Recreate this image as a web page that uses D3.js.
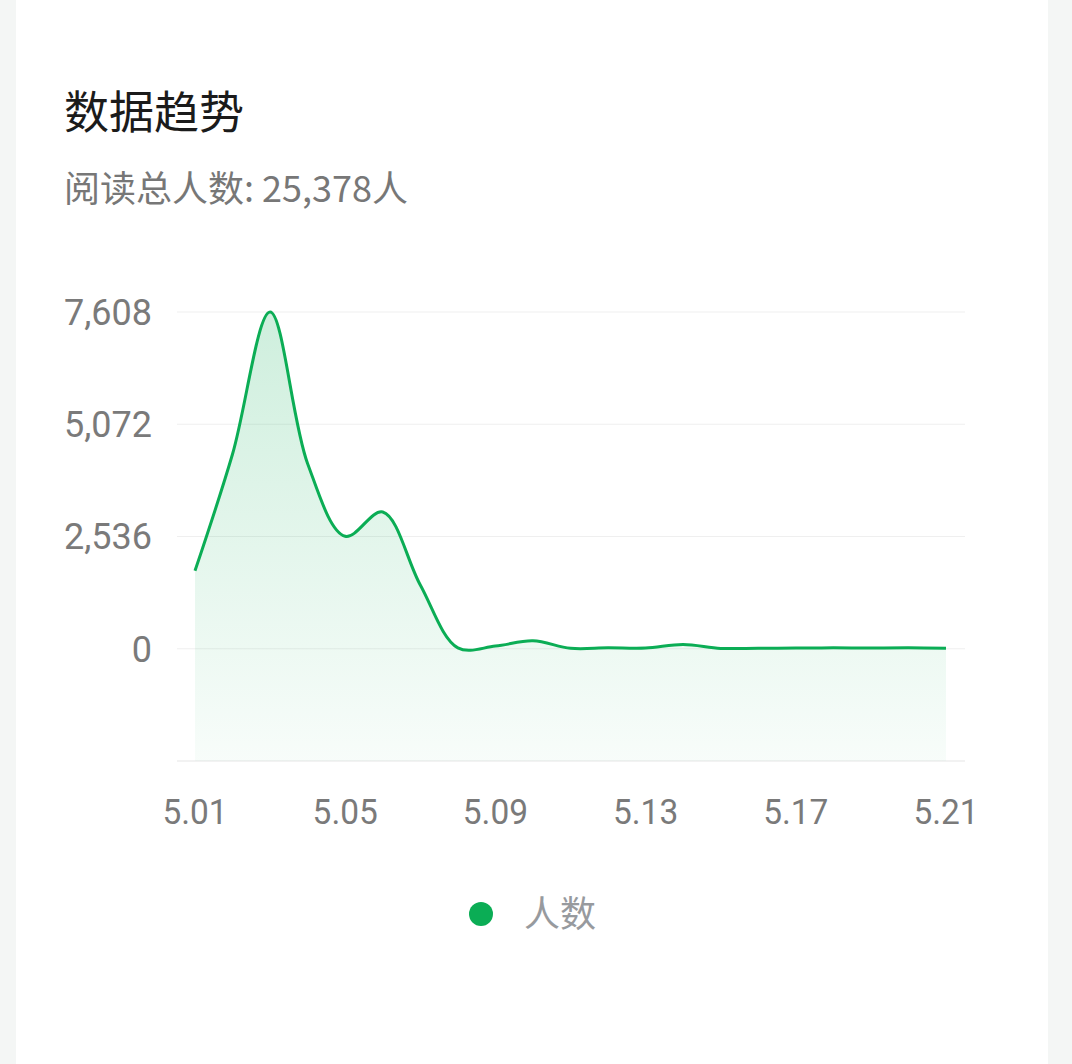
<!DOCTYPE html>
<html><head><meta charset="utf-8">
<script src="https://cdn.jsdelivr.net/npm/d3@7/dist/d3.min.js"></script>
<style>
html,body{margin:0;padding:0;background:#f4f6f5;}
svg{display:block;}
</style></head>
<body>
<svg id="c" width="1072" height="1064"></svg>
<script>
const dates = ["5.01","5.02","5.03","5.04","5.05","5.06","5.07","5.08","5.09","5.10","5.11","5.12","5.13","5.14","5.15","5.16","5.17","5.18","5.19","5.20","5.21"];
const readers = [1760,4400,7608,4180,2540,3090,1440,20,60,180,10,20,15,95,8,12,15,20,18,22,10];
const yTicks = [-2536,0,2536,5072,7608];
const xTickLabels = ["5.01","5.05","5.09","5.13","5.17","5.21"];
const title = "数据趋势";
const subtitle = "阅读总人数: 25,378人";
const seriesName = "人数";

const svg = d3.select("#c");
const green = "#0bad55";
const font = "Roboto, 'Noto Sans CJK SC', sans-serif";
const cjk = "'Noto Sans CJK SC', sans-serif";

svg.append("rect").attr("x",16).attr("y",0).attr("width",1032).attr("height",1064).attr("fill","#fff");

svg.append("text").attr("x",64).attr("y",129).text(title)
  .attr("font-family",cjk).attr("font-size",45).attr("font-weight",400).attr("fill","#1b1b1b");
svg.append("text").attr("x",64).attr("y",202).text(subtitle)
  .attr("font-family",cjk).attr("font-size",36).attr("fill","#777");

const x = d3.scalePoint().domain(dates).range([195,946]);
const y = d3.scaleLinear().domain([-2536,7608]).range([761,312]);

const g = svg.append("g");
g.selectAll("line.grid").data(yTicks).join("line").attr("class","grid")
  .attr("x1",177).attr("x2",965).attr("y1",d=>y(d)).attr("y2",d=>y(d))
  .attr("stroke",(d,i)=>i===0?"#e6e6e6":"#efefef").attr("stroke-width",1.2);

g.selectAll("text.yl").data(yTicks.filter(d=>d>=0)).join("text").attr("class","yl")
  .attr("x",152).attr("y",d=>y(d)).attr("dy","0.36em").attr("text-anchor","end")
  .attr("font-family",font).attr("font-size",36).attr("fill","#7a7a7a")
  .text(d=>d3.format(",")(d));

g.selectAll("text.xl").data(xTickLabels).join("text").attr("class","xl")
  .attr("transform",d=>`translate(${x(d)},824) scale(0.93,1)`).attr("text-anchor","middle")
  .attr("font-family",font).attr("font-size",36).attr("fill","#7a7a7a")
  .text(d=>d);

const defs = svg.append("defs");
const grad = defs.append("linearGradient").attr("id","ag").attr("x1",0).attr("y1",0).attr("x2",0).attr("y2",1);
grad.append("stop").attr("offset","0%").attr("stop-color",green).attr("stop-opacity",0.2);
grad.append("stop").attr("offset","100%").attr("stop-color",green).attr("stop-opacity",0.03);

const curve = d3.curveCatmullRom.alpha(0.5);
const area = d3.area().x((d,i)=>x(dates[i])).y0(y(-2536)).y1(d=>y(d)).curve(curve);
const line = d3.line().x((d,i)=>x(dates[i])).y(d=>y(d)).curve(curve);

g.append("path").datum(readers).attr("d",area).attr("fill","url(#ag)");
g.append("path").datum(readers).attr("d",line).attr("fill","none").attr("stroke",green).attr("stroke-width",3);

const leg = svg.append("g");
leg.append("circle").attr("cx",481).attr("cy",914).attr("r",12).attr("fill",green);
leg.append("text").attr("x",524).attr("y",927).text(seriesName)
  .attr("font-family",cjk).attr("font-size",36).attr("fill","#979a9e");
</script>
</body></html>
